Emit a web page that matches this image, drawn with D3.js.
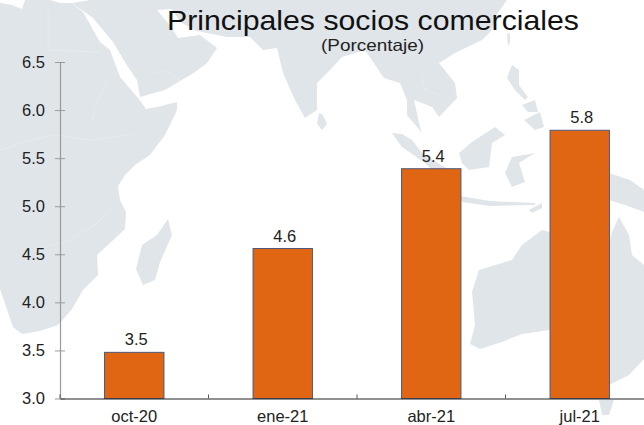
<!DOCTYPE html>
<html>
<head>
<meta charset="utf-8">
<script src="https://cdn.jsdelivr.net/npm/d3@7"></script>
<style>
  html, body { margin: 0; padding: 0; background: #fff; overflow: hidden; }
  text { font-family: "Liberation Sans", Arial, sans-serif; }
</style>
</head>
<body>
<svg id="chart" width="644" height="425"></svg>
<script>
const categories = ["oct-20", "ene-21", "abr-21", "jul-21"];
const values = [3.48, 4.56, 5.39, 5.79];
const yTicks = [3.0, 3.5, 4.0, 4.5, 5.0, 5.5, 6.0, 6.5];

// background map, traced by hand in page pixels
const africaAsia = [[0,3],[12,5],[22,9],[25,0],[50,0],[60,3],[72,3],[83,12],[100,42],[110,50],[120,77],[138,98],[146,109],[157,107],[177,102],[177,110],[165,135],[150,155],[135,165],[125,175],[118,186],[120,200],[126,212],[125,229],[110,243],[97,255],[98,275],[83,290],[72,309],[58,325],[40,331],[22,334],[13,327],[0,289]];
const asia = [[72,3],[93,18],[113,42],[128,67],[137,80],[140,97],[165,90],[180,81],[195,72],[207,63],[217,48],[200,35],[178,38],[172,28],[157,10],[172,9],[180,22],[197,31],[227,37],[250,37],[263,50],[277,48],[283,73],[295,100],[305,118],[317,110],[317,83],[330,70],[342,57],[365,50],[384,78],[400,83],[407,100],[407,115],[422,133],[420,127],[414,100],[432,107],[439,117],[457,98],[455,83],[439,63],[455,53],[482,40],[492,30],[495,17],[507,0],[90,0]];
const sriLanka = [[319,113],[323,115],[327,124],[322,130],[317,124]];
const madagascar = [[168,219],[172,235],[160,262],[155,280],[143,285],[136,269],[142,245],[157,235]];
const taiwan = [[507,34],[510,33],[510,42],[508,46]];
const sumatra = [[392,133],[402,134],[412,140],[422,153],[449,170],[440,178],[425,163],[402,147]];
const java = [[460,196],[490,201],[535,203],[535,205],[490,206],[462,202]];
const borneo = [[459,153],[472,142],[495,127],[505,135],[492,143],[489,167],[469,170],[462,163]];
const sulawesi = [[505,173],[512,157],[535,153],[519,163],[525,182],[512,187]];
const luzon = [[507,78],[512,65],[519,70],[519,85],[528,97],[525,100],[515,90]];
const visayas = [[522,105],[535,100],[538,112],[528,112]];
const mindanao = [[524,120],[540,112],[544,127],[535,130]];
const newGuinea = [[609,173],[630,180],[644,190],[644,212],[625,205],[609,200]];
const timor = [[529,210],[542,203],[542,208],[532,213]];
const australia = [[542,230],[522,245],[512,260],[479,270],[472,292],[475,325],[470,344],[480,349],[502,342],[522,334],[549,330],[609,385],[629,375],[644,359],[644,265],[632,255],[629,235],[619,217],[612,232],[609,244],[580,240]];
const tasmania = [[599,400],[614,400],[609,415],[602,415]];
const landShapes = [africaAsia, asia, sriLanka, madagascar, taiwan, sumatra, java, borneo, sulawesi, luzon, visayas, mindanao, newGuinea, timor, australia, tasmania];

const borders = [
  [[48,10],[48,50],[100,52]],
  [[0,150],[30,140],[55,135],[90,140],[130,135]],
  [[108,78],[100,95],[92,120],[110,140]],
  [[35,250],[70,240],[95,225],[110,210]],
  [[150,75],[165,70],[180,81]],
  [[420,70],[425,90],[440,95]]
];

const width = 644;
const height = 425;
const axisLeft = 60;
const axisRight = 654;
const axisBottom = 398.5;
const axisTop = 62;

const svg = d3.select("#chart");
const landLine = d3.line().curve(d3.curveLinearClosed);
const borderLine = d3.line();

svg.append("rect").attr("width", width).attr("height", height).attr("fill", "#fff");

svg.append("g")
  .selectAll("path")
  .data(landShapes)
  .enter()
  .append("path")
  .attr("d", (shape) => landLine(shape))
  .attr("fill", "#e0e5ea");

svg.append("g")
  .selectAll("path")
  .data(borders)
  .enter()
  .append("path")
  .attr("d", (shape) => borderLine(shape))
  .attr("fill", "none")
  .attr("stroke", "#e9ecef")
  .attr("stroke-width", 0.7);

const x = d3.scaleBand()
  .domain(categories)
  .range([axisLeft, axisRight])
  .paddingInner(0.6)
  .paddingOuter(0.3);

const y = d3.scaleLinear()
  .domain([3, 6.5])
  .range([axisBottom, axisTop]);

// bars
svg.append("g")
  .selectAll("rect")
  .data(values)
  .enter()
  .append("rect")
  .attr("x", (d, i) => x(categories[i]))
  .attr("y", (d) => y(d))
  .attr("width", x.bandwidth())
  .attr("height", (d) => axisBottom - y(d))
  .attr("fill", "#e06614")
  .attr("stroke", "#4c5a7c")
  .attr("stroke-width", 1);

// value labels
svg.append("g")
  .selectAll("text")
  .data(values)
  .enter()
  .append("text")
  .attr("x", (d, i) => x(categories[i]) + x.bandwidth() / 2 + 2)
  .attr("y", (d) => y(d) - 7)
  .attr("text-anchor", "middle")
  .attr("font-size", 16.5)
  .attr("fill", "#222")
  .text((d) => d3.format(".1f")(d));

// y axis
const yAxis = d3.axisLeft(y)
  .tickValues(yTicks)
  .tickFormat(d3.format(".1f"))
  .tickSize(0)
  .tickPadding(15);

const yGroup = svg.append("g")
  .attr("transform", `translate(${axisLeft},0)`)
  .call(yAxis);

yGroup.select(".domain").attr("stroke", "#9a9a9a").attr("stroke-width", 1.2);
yGroup.selectAll(".tick line")
  .attr("x1", -5)
  .attr("x2", 5)
  .attr("stroke", "#9a9a9a");
yGroup.selectAll(".tick text")
  .attr("font-size", 16.5)
  .attr("font-family", "Liberation Sans")
  .attr("fill", "#222");

// x axis, ticks sit between the bars
const xAxis = d3.axisBottom(x).tickSize(0).tickPadding(12);

const xGroup = svg.append("g")
  .attr("transform", `translate(0,${axisBottom})`)
  .call(xAxis);

xGroup.select(".domain").attr("stroke", "#222").attr("stroke-width", 1.2);
xGroup.selectAll(".tick text")
  .attr("font-size", 16.5)
  .attr("font-family", "Liberation Sans")
  .attr("fill", "#222");

const step = x.step();
xGroup.selectAll("line.sep")
  .data(categories)
  .enter()
  .append("line")
  .attr("class", "sep")
  .attr("x1", (d) => x(d) - (step - x.bandwidth()) / 2)
  .attr("x2", (d) => x(d) - (step - x.bandwidth()) / 2)
  .attr("y1", -4)
  .attr("y2", 0)
  .attr("stroke", "#555");

svg.append("text")
  .attr("x", 167)
  .attr("y", 30)
  .attr("font-size", 28.5)
  .attr("textLength", 412)
  .attr("lengthAdjust", "spacingAndGlyphs")
  .attr("fill", "#111")
  .text("Principales socios comerciales");

svg.append("text")
  .attr("x", 321)
  .attr("y", 51)
  .attr("font-size", 16.5)
  .attr("textLength", 103)
  .attr("lengthAdjust", "spacingAndGlyphs")
  .attr("fill", "#222")
  .text("(Porcentaje)");
</script>
</body>
</html>
